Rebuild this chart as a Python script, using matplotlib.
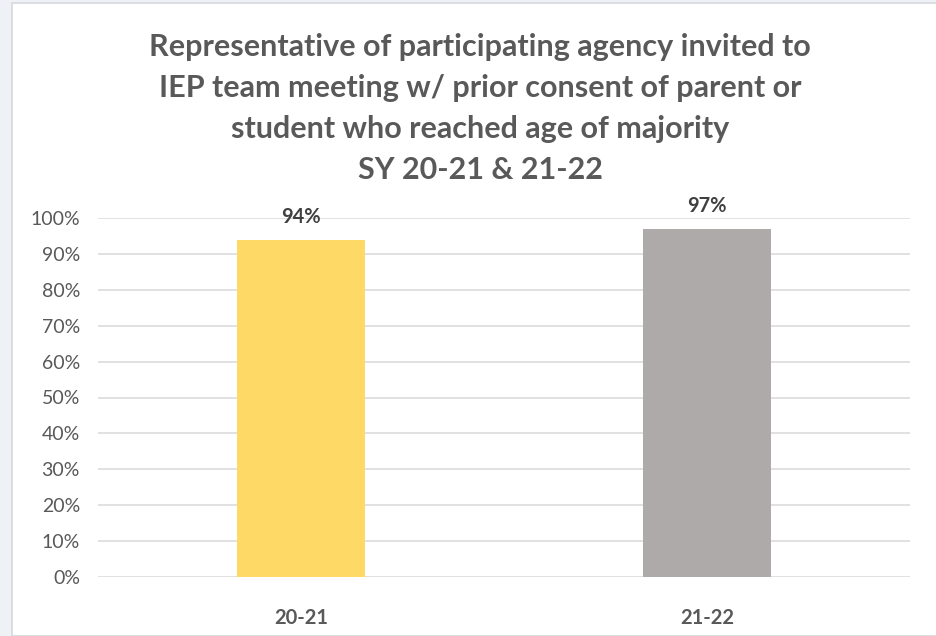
import matplotlib.pyplot as plt
from matplotlib.patches import Rectangle
from matplotlib.ticker import PercentFormatter

years = ["20-21", "21-22"]
rates = [0.94, 0.97]
bar_colors = ["#FFD966", "#AEAAAA"]
title = ("Representative of participating agency invited to\n"
         "IEP team meeting w/ prior consent of parent or\n"
         "student who reached age of majority\n"
         "SY 20-21 & 21-22")

W, H = 936, 636
txt = "#595959"
plt.rcParams['font.family'] = ['Lato', 'DejaVu Sans']

fig = plt.figure(figsize=(W / 100, H / 100), dpi=100)
fig.patch.set_facecolor("#EEF2F6")
fig.patches.append(Rectangle((12 / W, 0), 1, 1 - 3 / H, transform=fig.transFigure,
                             facecolor="white", edgecolor="#D6D9DC", lw=1.2, zorder=-1))

ax = fig.add_axes([98 / W, 1 - 577 / H, (910 - 98) / W, (577 - 218) / H])
ax.set_zorder(2)
ax.set_facecolor("none")
x = range(len(years))
bars = ax.bar(x, rates, width=0.313, color=bar_colors, zorder=3)
for xi, r in zip(x, rates):
    ax.annotate("{:.0f}%".format(r * 100), (xi, r), xytext=(0, 9), textcoords="offset points",
                ha="center", va="bottom", fontsize=14.5, fontweight="bold", color="#404040")

ax.set_xlim(-0.5, 1.5)
ax.set_ylim(0, 1)
ax.set_yticks([i / 10 for i in range(11)])
ax.yaxis.set_major_formatter(PercentFormatter(1.0, decimals=0))
ax.set_xticks(list(x))
ax.set_xticklabels(years, fontweight="bold")
ax.tick_params(axis="y", length=0, pad=13, labelsize=14, labelcolor=txt)
ax.tick_params(axis="x", length=0, pad=22, labelsize=14.5, labelcolor=txt)
ax.grid(axis="y", color="#D9D9D9", lw=1.1, zorder=0)
for s in ax.spines.values():
    s.set_visible(False)

fig.text(480 / W, 1 - 33 / H, title, ha="center", va="top", fontsize=22, fontweight="bold",
         color=txt, linespacing=1.56)

fig.savefig("out.png", dpi=100)
